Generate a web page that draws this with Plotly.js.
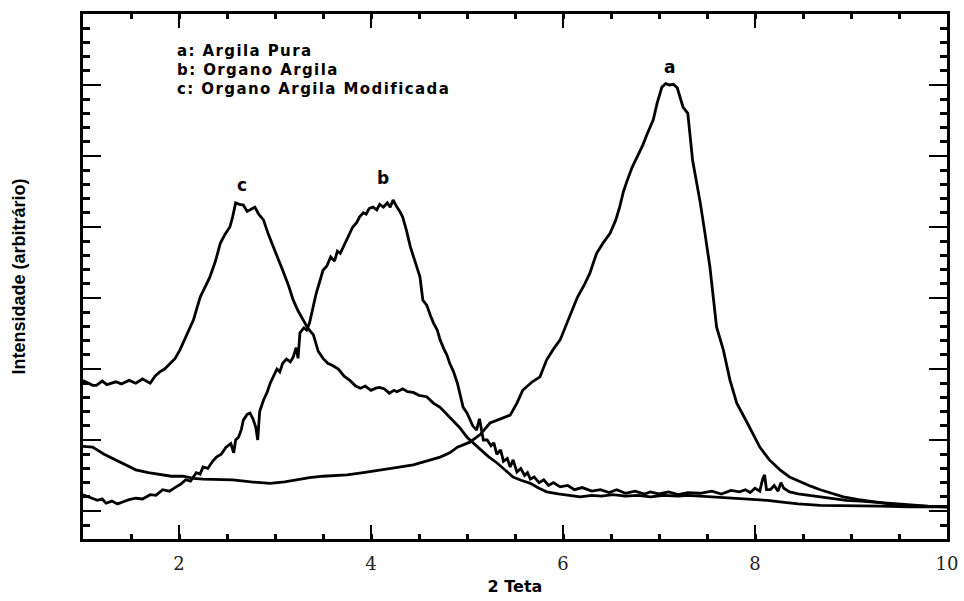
<!DOCTYPE html>
<html>
<head>
<meta charset="utf-8">
<script src="https://cdn.plot.ly/plotly-3.0.1.min.js"></script>
<style>html,body{margin:0;padding:0;background:#fff;}#chart{width:964px;height:601px;}</style>
</head>
<body>
<div id="chart"></div>
<script>
// Curve a: Argila Pura (2-theta, arbitrary intensity)
var aX = [1.00,1.10,1.22,1.34,1.45,1.55,1.68,1.80,1.92,2.04,2.15,2.25,2.40,2.56,2.75,2.95,3.10,3.22,3.36,3.50,3.62,3.75,3.92,4.09,4.26,4.44,4.58,4.72,4.82,4.90,5.03,5.14,5.24,5.35,5.45,5.52,5.58,5.68,5.76,5.83,5.90,5.97,6.06,6.15,6.22,6.28,6.35,6.42,6.49,6.55,6.59,6.63,6.67,6.72,6.77,6.83,6.88,6.94,6.98,7.03,7.07,7.11,7.15,7.19,7.25,7.30,7.35,7.43,7.48,7.53,7.60,7.67,7.74,7.81,7.92,8.05,8.15,8.26,8.36,8.47,8.58,8.68,8.80,8.92,9.08,9.23,9.37,9.51,9.68,9.85,10.00];
var aY = [91,90,80,72,64,58,54,51,49,49,46,45,45,44,41,39,41,44,47,49,50,51,54,58,61,65,70,76,82,90,97,108,124,130,135,152,170,182,189,213,228,241,270,301,318,335,363,378,391,410,428,450,466,484,498,515,532,551,574,597,602,600,601,596,569,560,494,434,390,344,259,227,184,152,124,90,72,58,48,41,35,30,25,20,16,13,10,8,7,6,6];

// Curve b: Organo Argila
var bX = [1.00,1.05,1.10,1.15,1.20,1.24,1.30,1.36,1.42,1.48,1.55,1.62,1.70,1.76,1.83,1.90,1.97,2.02,2.07,2.12,2.18,2.22,2.25,2.30,2.35,2.39,2.44,2.49,2.54,2.57,2.59,2.62,2.65,2.67,2.71,2.74,2.77,2.80,2.82,2.84,2.88,2.92,2.95,2.98,3.02,3.05,3.08,3.12,3.16,3.19,3.22,3.24,3.26,3.30,3.33,3.36,3.40,3.43,3.47,3.50,3.54,3.58,3.62,3.65,3.68,3.72,3.75,3.78,3.81,3.85,3.88,3.92,3.95,3.98,4.02,4.06,4.09,4.13,4.17,4.20,4.23,4.27,4.30,4.33,4.37,4.41,4.44,4.48,4.51,4.54,4.58,4.62,4.65,4.69,4.72,4.76,4.79,4.82,4.86,4.90,4.93,4.96,5.00,5.03,5.06,5.10,5.13,5.17,5.21,5.25,5.28,5.31,5.35,5.38,5.42,5.45,5.48,5.52,5.56,5.60,5.63,5.66,5.70,5.75,5.80,5.85,5.90,5.97,6.05,6.12,6.20,6.30,6.39,6.48,6.56,6.65,6.75,6.85,6.91,7.00,7.10,7.20,7.30,7.43,7.55,7.65,7.75,7.84,7.90,7.95,8.00,8.05,8.08,8.10,8.12,8.16,8.20,8.24,8.27,8.30,8.36,8.45,8.55,8.68,8.80,8.95,9.10,9.20,9.40,9.60,9.80,10.00];
var bY = [23,20,18,15,17,11,14,10,13,16,18,17,23,22,30,28,34,38,44,42,54,52,62,60,70,76,80,90,95,82,100,104,115,128,136,138,130,118,100,140,156,168,180,189,200,196,208,214,210,217,230,215,251,258,255,265,290,307,325,339,345,358,352,366,363,375,382,392,400,406,414,420,418,426,428,424,432,428,434,428,438,428,422,414,395,372,360,344,330,297,290,275,265,255,241,228,220,208,196,180,165,146,138,128,120,114,130,100,100,92,96,80,86,70,74,62,72,55,60,50,54,45,48,40,44,36,40,34,36,30,33,28,30,26,30,25,28,24,27,24,27,23,26,25,28,24,29,27,30,26,32,28,45,51,30,30,36,28,40,32,27,24,22,20,18,15,14,13,10,8,7,6];

// Curve c: Organo Argila Modificada
var cX = [1.00,1.05,1.10,1.14,1.20,1.25,1.34,1.40,1.48,1.55,1.62,1.70,1.75,1.80,1.85,1.91,1.96,2.01,2.07,2.15,2.22,2.27,2.32,2.38,2.43,2.48,2.53,2.56,2.59,2.63,2.67,2.71,2.74,2.79,2.83,2.88,2.93,2.98,3.03,3.08,3.14,3.19,3.24,3.29,3.34,3.40,3.45,3.50,3.55,3.60,3.66,3.72,3.78,3.84,3.89,3.94,4.00,4.05,4.09,4.14,4.19,4.24,4.27,4.33,4.38,4.44,4.50,4.58,4.65,4.72,4.78,4.85,4.92,5.00,5.07,5.14,5.22,5.31,5.40,5.48,5.57,5.66,5.75,5.83,5.95,6.05,6.18,6.30,6.40,6.52,6.65,6.78,6.91,7.05,7.20,7.30,7.43,7.55,7.70,7.84,8.00,8.13,8.26,8.45,8.68,8.90,9.10,9.30,9.60,10.00];
var cY = [184,180,177,177,183,178,182,179,184,180,186,180,190,196,200,208,215,227,245,269,301,315,329,352,377,390,400,415,434,432,431,422,424,428,418,410,390,372,355,339,318,297,282,269,258,248,225,215,208,205,200,190,184,176,173,176,170,173,174,172,166,170,168,172,168,167,163,161,152,146,138,128,118,104,95,86,77,68,58,48,43,39,32,27,24,22,20,22,21,23,21,22,20,22,21,22,21,20,19,18,16,15,13,10,8,8,7,7,6,6];

var legendLines = ["a: Argila Pura", "b: Organo Argila", "c: Organo Argila Modificada"];
var peakLabels = ["a", "b", "c"];
var peakLabelX = [7.11, 4.13, 2.66];
var peakLabelY = [625, 469, 459];
var xTickVals = [2, 4, 6, 8, 10];
var xTickText = ["2", "4", "6", "8", "10"];

var lineStyle = {color: "#000", width: 2.8};
var traces = [
  {x: aX, y: aY, name: legendLines[0], type: "scatter", mode: "lines", line: lineStyle},
  {x: bX, y: bY, name: legendLines[1], type: "scatter", mode: "lines", line: lineStyle},
  {x: cX, y: cY, name: legendLines[2], type: "scatter", mode: "lines", line: lineStyle}
];

var annotations = [];
for (var i = 0; i < peakLabels.length; i++) {
  annotations.push({x: peakLabelX[i], y: peakLabelY[i], xref: "x", yref: "y", text: "<b>" + peakLabels[i] + "</b>",
    showarrow: false, font: {family: "DejaVu Sans", size: 17, color: "#000"}});
}
var legendY = [648, 621, 594];
for (var j = 0; j < legendLines.length; j++) {
  annotations.push({x: 1.955, y: legendY[j], xref: "x", yref: "y", xanchor: "left", yanchor: "middle",
    text: "<span style=\"letter-spacing:1.4px\"><b>" + legendLines[j] + "</b></span>",
    showarrow: false, font: {family: "DejaVu Sans", size: 15, color: "#000"}});
}

var layout = {
  width: 964, height: 601,
  margin: {l: 83, r: 17, t: 14, b: 62},
  paper_bgcolor: "#fff", plot_bgcolor: "#fff",
  showlegend: false,
  xaxis: {
    range: [1, 10], tickmode: "array", tickvals: xTickVals, ticktext: xTickText,
    ticks: "inside", ticklen: 14, tickwidth: 2.5, tickcolor: "#000",
    minor: {dtick: 0.5, tick0: 0, ticks: "inside", ticklen: 5, tickwidth: 3, tickcolor: "#000"},
    showline: true, linewidth: 3, linecolor: "#000", mirror: "ticks",
    showgrid: false, zeroline: false,
    tickfont: {family: "DejaVu Serif", size: 18, color: "#222"},
    ticklabelstandoff: 6,
    title: {text: "<b>2 Teta</b>", font: {family: "DejaVu Sans", size: 16, color: "#000"}, standoff: 9}
  },
  yaxis: {
    range: [-39.4, 700], tick0: 0, dtick: 100,
    ticks: "inside", ticklen: 18, tickwidth: 2.5, tickcolor: "#000",
    minor: {dtick: 20, tick0: 0, ticks: "inside", ticklen: 7, tickwidth: 3, tickcolor: "#000"},
    showline: true, linewidth: 3, linecolor: "#000", mirror: "ticks",
    showgrid: false, zeroline: false, showticklabels: false,
    title: {text: "<b>Intensidade (arbitrário)</b>", font: {family: "Liberation Sans", size: 18, color: "#000"}, standoff: 50},
    automargin: false
  },
  annotations: annotations
};

Plotly.newPlot("chart", traces, layout, {displayModeBar: false, staticPlot: true});
</script>
</body>
</html>
